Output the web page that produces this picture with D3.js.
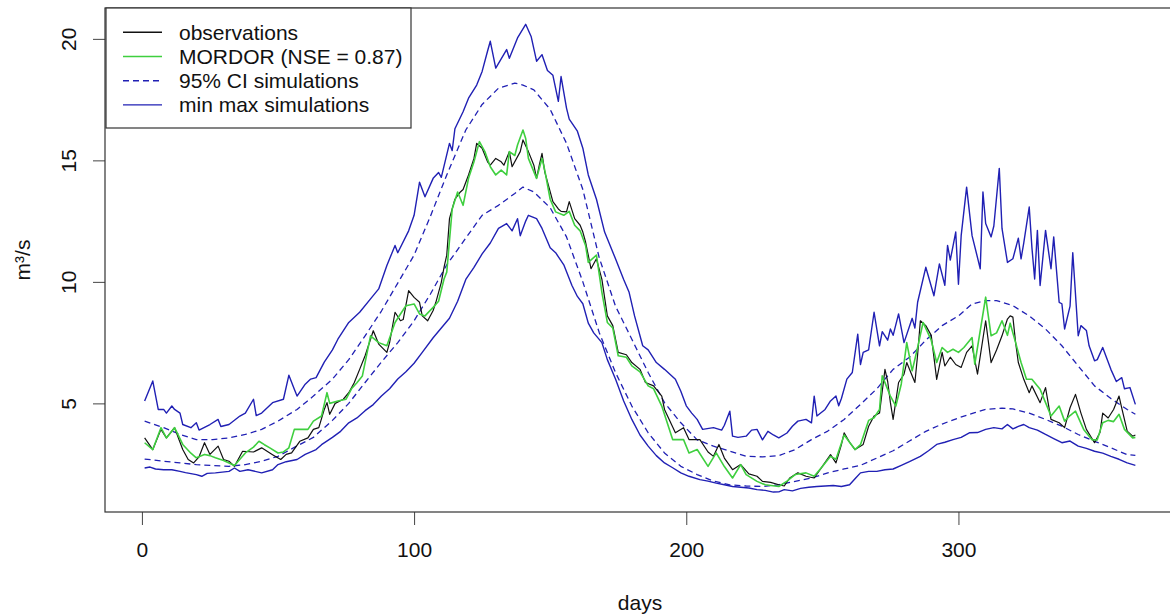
<!DOCTYPE html>
<html>
<head>
<meta charset="utf-8">
<script src="https://cdn.jsdelivr.net/npm/d3@7"></script>
<style>
    html, body { margin: 0; padding: 0; background: #fff; }
    svg { display: block; font-family: "Liberation Sans", Arial, sans-serif; }
</style>
</head>
<body>
<svg id="chart" width="1170" height="614"></svg>
<script>
// Data ([day, m3/s])
const observations = [[1,3.58],[4,3.1],[7,3.93],[9,3.58],[12,4.0],[15,3.1],[17,2.69],[19,2.55],[21,2.8],[23,3.38],[25,2.9],[28,3.24],[30,2.69],[32,2.62],[34,2.41],[37,3.03],[41,3.0],[44,3.17],[48,2.89],[51,2.69],[53,2.9],[55,2.96],[58,3.44],[61,3.58],[63,3.93],[65,4.0],[67,4.75],[68,5.03],[69,4.55],[71,5.0],[74,5.17],[76,5.44],[78,5.85],[80,6.4],[82,6.96],[84,7.64],[85,7.99],[87,7.44],[90,7.1],[91,7.5],[93,8.75],[95,8.4],[96,8.45],[98,9.64],[100,9.36],[102,9.16],[103,8.6],[105,8.4],[107,8.82],[108,9.16],[110,9.98],[111,10.6],[112,11.1],[113,12.6],[115,13.4],[117,13.7],[118,13.8],[120,14.4],[122,15.08],[123,15.7],[125,15.5],[127,14.94],[128,14.8],[130,15.08],[132,14.94],[133,14.8],[135,15.36],[136,14.74],[139,15.36],[140,15.84],[142,15.36],[144,14.8],[145,14.26],[146,14.8],[147,15.29],[148,14.53],[151,13.3],[153,13.0],[154,12.9],[156,12.88],[157,13.3],[159,12.6],[161,12.33],[162,12.05],[163,11.64],[165,10.54],[167,10.95],[169,10.1],[171,8.6],[173,8.2],[175,7.1],[178,7.0],[180,6.68],[183,6.4],[185,5.86],[188,5.72],[189,5.58],[191,5.3],[192,4.75],[196,3.79],[199,4.0],[201,3.51],[205,3.51],[208,3.0],[210,2.82],[212,3.31],[214,2.75],[217,2.27],[220,2.48],[223,2.1],[226,2.0],[228,1.79],[231,1.75],[234,1.65],[236,1.6],[238,1.93],[241,2.14],[244,2.0],[247,1.93],[250,2.41],[253,2.89],[255,2.55],[257,3.3],[258,3.79],[260,3.4],[262,3.1],[265,3.31],[267,4.06],[269,4.48],[271,4.6],[273,6.4],[274,5.9],[275,5.03],[276,4.34],[278,5.86],[280,6.2],[281,6.68],[284,5.86],[285,7.0],[286,8.4],[288,8.2],[290,7.8],[292,5.99],[294,7.1],[295,6.54],[297,6.9],[299,6.6],[301,6.48],[303,7.1],[305,7.37],[307,6.2],[310,8.4],[312,6.68],[314,7.2],[316,7.78],[318,8.47],[319,8.6],[320,8.55],[321,7.5],[322,6.68],[324,5.99],[326,5.44],[327,5.72],[330,5.03],[332,5.65],[334,4.34],[337,4.2],[339,4.0],[341,4.82],[343,5.37],[345,4.6],[347,3.93],[350,3.38],[352,3.8],[353,4.6],[355,4.4],[357,4.75],[359,5.3],[360,4.8],[362,3.86],[364,3.65],[365,3.7]];

const mordor = [[1,3.38],[4,3.1],[7,4.0],[9,3.58],[12,4.0],[15,3.31],[18,2.95],[20,2.76],[23,2.9],[25,2.85],[27,2.76],[30,2.65],[32,2.55],[34,2.44],[36,2.7],[38,2.96],[41,3.2],[43,3.44],[45,3.3],[47,3.17],[50,2.96],[52,3.0],[54,3.17],[56,3.93],[59,3.93],[61,3.93],[63,4.27],[66,4.48],[68,5.44],[69,5.0],[72,5.1],[75,5.17],[77,5.6],[79,5.85],[81,6.13],[84,7.78],[87,7.5],[90,7.37],[93,8.33],[95,8.68],[97,9.02],[100,9.09],[102,8.68],[104,8.6],[107,8.95],[109,9.2],[111,10.12],[112,10.4],[114,13.0],[116,13.7],[118,13.15],[120,14.26],[122,14.94],[124,15.77],[126,15.36],[128,14.74],[130,14.4],[132,14.6],[134,14.4],[135,15.36],[137,15.2],[138,15.63],[140,16.25],[141,15.9],[142,15.08],[145,14.26],[147,15.08],[148,14.6],[150,13.4],[152,12.88],[155,12.74],[157,12.9],[159,12.33],[161,12.1],[163,11.5],[164,10.8],[167,11.1],[169,9.57],[171,8.33],[173,8.1],[175,6.96],[178,6.9],[180,6.54],[183,6.3],[186,5.72],[188,5.6],[191,4.89],[195,3.51],[199,3.51],[201,2.96],[204,3.1],[208,2.41],[211,2.96],[214,2.4],[217,1.93],[220,2.48],[222,2.07],[226,1.79],[229,1.65],[234,1.58],[237,1.8],[240,2.07],[244,2.14],[247,2.0],[250,2.4],[253,2.82],[255,2.7],[258,3.7],[260,3.4],[262,3.1],[264,3.3],[267,4.3],[269,4.41],[271,4.75],[272,6.13],[275,5.3],[277,4.89],[279,5.8],[281,7.5],[283,6.34],[285,7.3],[287,8.33],[290,7.6],[292,6.68],[294,7.3],[296,7.1],[298,7.23],[300,7.1],[302,7.3],[305,7.71],[306,6.61],[310,9.37],[312,7.78],[314,7.9],[316,8.4],[318,7.8],[319,8.3],[321,7.5],[323,6.68],[325,5.99],[327,5.99],[330,5.58],[332,5.03],[334,4.48],[337,4.89],[339,4.27],[341,4.5],[343,4.68],[346,3.93],[349,3.51],[351,3.5],[353,4.2],[355,4.3],[357,4.25],[359,4.55],[361,3.93],[364,3.58],[365,3.6]];

const ciUpper = [[1,4.27],[8,4.0],[14,3.72],[20,3.51],[26,3.51],[32,3.58],[38,3.72],[44,3.93],[50,4.27],[57,4.75],[63,5.3],[70,6.0],[76,6.8],[82,7.78],[88,8.8],[94,9.95],[100,11.1],[106,12.7],[112,14.4],[119,16.25],[125,17.3],[131,17.97],[137,18.18],[140,18.1],[144,17.9],[150,17.1],[156,15.7],[162,13.8],[168,11.0],[174,9.0],[180,7.64],[186,6.27],[192,5.03],[198,4.2],[204,3.5],[210,3.24],[216,3.03],[222,2.82],[228,2.8],[234,2.85],[240,3.1],[246,3.51],[252,3.86],[258,4.34],[264,4.96],[270,5.6],[276,6.4],[282,6.9],[288,7.6],[294,8.2],[300,8.6],[305,9.09],[310,9.23],[314,9.23],[320,9.02],[326,8.6],[332,8.06],[338,7.37],[344,6.54],[350,5.72],[356,5.2],[362,4.75],[365,4.55]];

const ciLower = [[1,2.71],[8,2.62],[14,2.55],[20,2.48],[26,2.44],[32,2.41],[38,2.48],[44,2.62],[50,2.82],[57,3.25],[63,3.6],[70,4.3],[76,5.0],[82,5.86],[88,6.7],[94,7.5],[100,8.4],[106,9.5],[112,10.7],[119,11.8],[125,12.74],[131,13.15],[137,13.64],[140,13.9],[144,13.7],[150,13.05],[156,11.85],[162,10.0],[168,7.92],[174,6.27],[180,4.89],[186,3.79],[192,2.96],[198,2.41],[204,2.07],[210,1.8],[216,1.65],[222,1.6],[228,1.58],[234,1.65],[240,1.79],[246,1.93],[252,2.14],[258,2.3],[264,2.45],[270,2.75],[276,3.05],[282,3.45],[288,3.85],[294,4.15],[300,4.4],[306,4.62],[310,4.75],[316,4.8],[320,4.77],[326,4.6],[332,4.34],[338,4.06],[344,3.72],[350,3.44],[356,3.17],[362,2.89],[365,2.86]];

const simMax = [[1,5.1],[4,5.92],[6,4.75],[8,4.75],[9,4.6],[11,4.89],[12,4.75],[14,4.6],[15,4.13],[18,4.0],[20,4.2],[21,3.9],[25,4.13],[28,4.34],[29,4.05],[32,4.13],[36,4.48],[38,4.6],[41,5.17],[42,4.5],[44,4.6],[48,5.03],[52,5.17],[54,6.16],[56,5.58],[57,5.3],[60,5.79],[62,6.0],[64,6.06],[67,6.7],[70,7.2],[72,7.64],[76,8.33],[80,8.75],[84,9.3],[87,9.71],[90,10.67],[93,11.5],[94,11.2],[98,12.1],[100,12.74],[102,14.1],[104,13.5],[107,14.26],[109,14.5],[110,14.3],[113,15.7],[114,15.4],[115,16.3],[118,17.0],[120,17.56],[123,18.1],[125,18.66],[127,19.5],[128,19.9],[130,18.8],[134,19.56],[135,19.2],[138,20.04],[141,20.6],[143,20.1],[145,19.08],[147,19.35],[149,18.7],[151,18.5],[153,17.43],[154,18.45],[156,17.15],[157,16.7],[160,16.2],[162,15.5],[164,14.4],[167,13.4],[170,12.05],[174,10.95],[177,10.1],[179,9.57],[181,8.6],[184,7.37],[186,7.2],[189,6.68],[192,6.4],[196,5.99],[198,5.5],[200,4.9],[202,4.6],[204,4.34],[206,3.93],[210,4.0],[213,3.9],[214,4.1],[216,4.68],[217,3.65],[219,3.6],[222,3.65],[224,3.9],[226,3.93],[228,3.5],[230,3.85],[232,3.7],[234,3.58],[237,3.78],[239,4.06],[241,4.27],[244,4.34],[246,4.2],[247,5.3],[248,4.48],[251,4.75],[253,5.1],[255,5.3],[256,4.9],[257,5.2],[259,6.0],[261,6.27],[263,7.85],[264,6.6],[265,7.1],[267,7.2],[269,8.75],[271,7.37],[272,7.95],[274,7.6],[275,8.06],[276,7.8],[278,8.68],[280,7.5],[283,8.5],[284,8.1],[285,9.16],[288,10.6],[291,9.43],[293,10.74],[295,9.86],[296,11.5],[297,10.9],[299,12.05],[300,9.9],[301,11.9],[303,13.9],[305,11.9],[307,11.0],[308,10.54],[309,13.7],[310,12.4],[312,11.85],[313,12.3],[315,14.67],[316,12.2],[318,10.8],[320,10.95],[322,11.8],[323,10.95],[324,11.6],[326,13.08],[327,11.4],[328,10.12],[329,12.12],[330,9.85],[332,12.12],[334,10.54],[335,11.85],[337,9.16],[338,9.1],[339,8.06],[341,9.0],[342,11.2],[344,7.78],[345,8.2],[347,8.0],[348,7.37],[350,6.75],[351,6.8],[353,7.3],[355,6.7],[356,6.4],[358,5.9],[360,6.06],[361,5.6],[363,5.65],[365,4.96]];

const simMin = [[1,2.34],[3,2.38],[5,2.3],[8,2.27],[11,2.27],[14,2.2],[16,2.15],[20,2.07],[22,2.0],[24,2.12],[27,2.14],[32,2.2],[34,2.34],[36,2.2],[39,2.27],[44,2.14],[48,2.27],[50,2.48],[53,2.6],[57,2.69],[60,2.9],[64,3.1],[66,3.3],[70,3.6],[73,3.85],[76,4.2],[79,4.4],[82,4.7],[85,4.95],[88,5.3],[91,5.6],[94,6.0],[97,6.3],[100,6.65],[103,7.1],[107,7.7],[110,8.1],[113,8.5],[116,9.2],[119,10.1],[122,10.6],[125,11.15],[128,11.6],[131,12.2],[134,12.4],[136,12.1],[138,12.6],[139,11.9],[141,12.5],[142,12.74],[145,12.6],[147,12.2],[150,11.4],[152,11.2],[155,10.7],[158,9.85],[160,9.4],[162,9.1],[164,8.3],[166,7.9],[169,7.5],[171,6.8],[174,6.0],[177,5.1],[180,4.34],[183,3.7],[186,3.24],[189,2.85],[192,2.55],[195,2.35],[198,2.14],[201,2.0],[205,1.86],[208,1.8],[211,1.72],[214,1.65],[217,1.58],[220,1.55],[223,1.52],[226,1.45],[229,1.42],[232,1.35],[234,1.36],[236,1.45],[239,1.4],[242,1.5],[245,1.55],[248,1.58],[251,1.6],[254,1.62],[257,1.58],[260,1.65],[262,1.9],[264,2.14],[267,2.2],[270,2.2],[273,2.27],[276,2.3],[279,2.45],[282,2.6],[286,2.82],[289,3.05],[292,3.31],[295,3.4],[298,3.51],[301,3.6],[304,3.79],[307,3.8],[310,3.93],[313,4.0],[316,3.95],[318,4.13],[320,3.95],[322,4.05],[324,4.13],[326,4.0],[329,3.9],[332,3.72],[335,3.55],[338,3.38],[341,3.45],[344,3.24],[347,3.15],[350,3.03],[353,2.95],[356,2.82],[359,2.7],[362,2.55],[365,2.45]];

const xTicks = [0, 100, 200, 300];
const yTicks = [5, 10, 15, 20];
const legendLabels = ["observations", "MORDOR (NSE = 0.87)", "95% CI simulations", "min max simulations"];

document.addEventListener("DOMContentLoaded", function() {

    // Display settings
    const box = {left: 105, right: 1175, top: 8, bottom: 512};
    const fontSize = "21px";
    const blue = "#2020b4";
    const green = "#3fcf3f";

    ////////// Scales (R style 4% padding) //////////

    const x = d3.scaleLinear().domain([-13.56, 379.56]).range([box.left, box.right]);
    const y = d3.scaleLinear().domain([0.53, 21.27]).range([box.bottom, box.top]);
    const line = d3.line()
        .x(d => x(d[0]))
        .y(d => y(d[1]));

    const svgElement = d3.select("#chart");

    ////////// Axes //////////

    svgElement.append("g")
        .attr("transform", `translate(0,${box.bottom})`)
        .call(d3.axisBottom(x).tickValues(xTicks).tickSize(13).tickPadding(17).tickFormat(d3.format("d")))
        .call(g => g.select(".domain").remove())
        .call(g => g.selectAll("line").attr("stroke", "#444"))
        .call(g => g.selectAll("text").attr("fill", "#111").style("font-size", fontSize).style("font-family", null));

    const yAxis = svgElement.append("g")
        .attr("transform", `translate(${box.left},0)`)
        .call(d3.axisLeft(y).tickValues(yTicks).tickSize(12).tickFormat(d3.format("d")))
        .call(g => g.select(".domain").remove())
        .call(g => g.selectAll("line").attr("stroke", "#444"));

    yAxis.selectAll("text")
        .attr("fill", "#111")
        .style("font-size", fontSize)
        .style("font-family", null)
        .attr("x", null).attr("dy", null)
        .attr("text-anchor", "middle")
        .attr("dominant-baseline", "central")
        .attr("transform", "translate(-37,0) rotate(-90)");

    // Axis titles
    svgElement.append("text")
        .attr("x", (box.left + box.right) / 2)
        .attr("y", 602)
        .attr("text-anchor", "middle")
        .attr("dominant-baseline", "central")
        .style("font-size", fontSize)
        .attr("fill", "#111")
        .text("days");

    svgElement.append("text")
        .attr("transform", `translate(22,${(box.top + box.bottom) / 2}) rotate(-90)`)
        .attr("text-anchor", "middle")
        .attr("dominant-baseline", "central")
        .style("font-size", fontSize)
        .attr("fill", "#111")
        .text("m³/s");

    ////////// Series //////////

    const series = [
        {data: simMax, color: blue, width: 1.4, dash: null},
        {data: simMin, color: blue, width: 1.4, dash: null},
        {data: ciUpper, color: blue, width: 1.3, dash: "6,4"},
        {data: ciLower, color: blue, width: 1.3, dash: "6,4"},
        {data: observations, color: "#111", width: 1.2, dash: null},
        {data: mordor, color: green, width: 1.6, dash: null}
    ];

    series.forEach(s => {
        svgElement.append("path")
            .datum(s.data)
            .attr("d", line)
            .attr("fill", "none")
            .attr("stroke", s.color)
            .attr("stroke-width", s.width)
            .attr("stroke-linejoin", "round")
            .attr("stroke-dasharray", s.dash);
    });

    // Plot frame
    svgElement.append("rect")
        .attr("x", box.left).attr("y", box.top)
        .attr("width", box.right - box.left).attr("height", box.bottom - box.top)
        .attr("fill", "none")
        .attr("stroke", "#333")
        .attr("stroke-width", 1.2);

    ////////// Legend //////////

    const legendStyles = [
        {color: "#111", dash: null},
        {color: green, dash: null},
        {color: blue, dash: "6,4"},
        {color: blue, dash: null}
    ];

    const legend = svgElement.append("g");
    legend.append("rect")
        .attr("x", 106).attr("y", 8)
        .attr("width", 305).attr("height", 120)
        .attr("fill", "#fff")
        .attr("stroke", "#333")
        .attr("stroke-width", 1.2);

    legendLabels.forEach((label, i) => {
        const rowY = 32.3 + i * 24.2;
        legend.append("line")
            .attr("x1", 123).attr("x2", 162)
            .attr("y1", rowY).attr("y2", rowY)
            .attr("stroke", legendStyles[i].color)
            .attr("stroke-width", 1.4)
            .attr("stroke-dasharray", legendStyles[i].dash);
        legend.append("text")
            .attr("x", 179)
            .attr("y", rowY)
            .attr("dominant-baseline", "central")
            .style("font-size", fontSize)
            .attr("fill", "#111")
            .text(label);
    });

});
</script>
</body>
</html>
